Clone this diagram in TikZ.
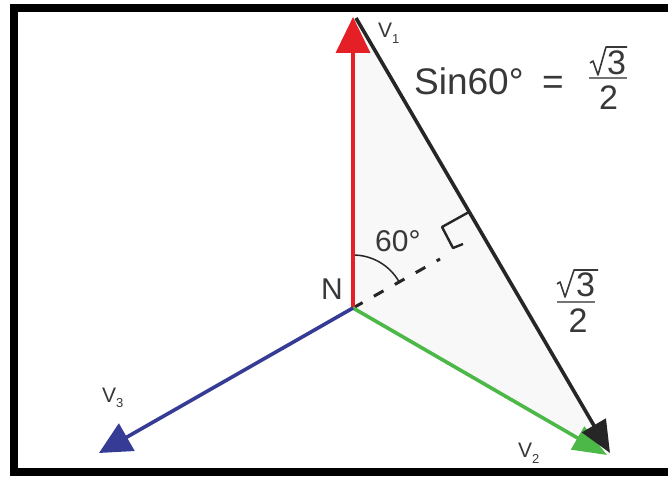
\documentclass[tikz,border=0pt]{standalone}
\usepackage{fontspec}
\setmainfont{Liberation Sans}
\usetikzlibrary{arrows.meta}
\definecolor{vred}{HTML}{E41F26}
\definecolor{vgreen}{HTML}{4CB848}
\definecolor{vblue}{HTML}{363C96}
\definecolor{vblack}{HTML}{262626}
\definecolor{txt}{HTML}{383838}
\definecolor{trifill}{HTML}{F8F8F8}
\newcommand{\vlab}[1]{V\raisebox{-6pt}{\fontsize{13}{14}\selectfont #1}}
\begin{document}
\begin{tikzpicture}[x=1pt,y=1pt,
  vlabel/.style={inner sep=0pt, anchor=base west, text=txt, font=\fontsize{21}{24}\selectfont},
  biglabel/.style={inner sep=0pt, anchor=base west, text=txt, font=\fontsize{30}{34}\selectfont},
  fraclabel/.style={inner sep=0pt, text=txt, font=\fontsize{34}{38}\selectfont},
  radical/.style={draw=txt, line width=1.6pt, line join=round},
  fracbar/.style={draw=txt!70, line width=1.2pt},
  vec/.style={line width=3.6pt},
  frame/.style={draw=black, line width=8pt}]
\useasboundingbox (0,0) rectangle (668,476);
\clip (0,0) rectangle (668,476);
\fill[white] (0,0) rectangle (668,476);
\draw[frame] (13.5,4) rectangle (700,468);

% points
\coordinate (N) at (353,168);
\coordinate (V1) at (353,459);
\coordinate (B1) at (356,458);
\coordinate (V2) at (610,23);
\coordinate (G2) at (607,21);
\coordinate (V3) at (99,23);
\coordinate (D) at (440,217);
\coordinate (RA) at (469,264);
\coordinate (RB) at (442,249);
\coordinate (RC) at (453,228);
\coordinate (RD) at (463,232);

% triangle fill
\fill[trifill] (N) -- (V1) -- (V2) -- cycle;

% dashed perpendicular, angle arc and right-angle mark
\draw[vblack, line width=3pt, dash pattern=on 11pt off 13pt] (N) -- (D);
\draw[vblack, line width=1.5pt] (353,221) arc[start angle=90, end angle=30, radius=53pt];
\draw[vblack, line width=2.4pt, line join=round] (RA) -- (RB) -- (RC) -- (RD);

% vectors
\draw[vec, vred, -{Triangle[length=36pt,width=34pt]}] (N) -- (V1);
\draw[vec, vgreen, -{Triangle[length=34pt,width=26pt]}] (N) -- (G2);
\draw[vec, vblack, -{Triangle[length=32pt,width=27pt]}] (B1) -- (V2);
\draw[vec, vblue, -{Triangle[length=32pt,width=31pt]}] (N) -- (V3);

% labels
\node[vlabel] (l1) at (378,438) {\vlab{1}};
\node[vlabel] (l2) at (518,19) {\vlab{2}};
\node[vlabel] (l3) at (102,74) {\vlab{3}};
\node[biglabel] (lN) at (321,176) {N};
\node[biglabel] (l60) at (375,224) {60°};
\node[inner sep=0pt, anchor=base west, text=txt, font=\fontsize{37}{42}\selectfont] (sin) at (414,381) {Sin60°};
\node[inner sep=0pt, anchor=base west, text=txt, font=\fontsize{37}{42}\selectfont] (eq) at (542,381) {=};

% top fraction
\draw[radical] (590,413) -- (593,415) -- (598,401) -- (606,429) -- (627,429);
\node[fraclabel, anchor=base west] (n1) at (607,401) {3};
\draw[fracbar] (589,398) -- (627,398);
\node[fraclabel, anchor=base] (d1) at (608.5,366) {2};

% side fraction
\draw[radical] (557,192) -- (560,194) -- (565,179) -- (574,206) -- (598,206);
\node[fraclabel, anchor=base west] (n2) at (576,179) {3};
\draw[fracbar] (557,174) -- (595,174);
\node[fraclabel, anchor=base] (d2) at (578,143) {2};
\end{tikzpicture}
\end{document}
